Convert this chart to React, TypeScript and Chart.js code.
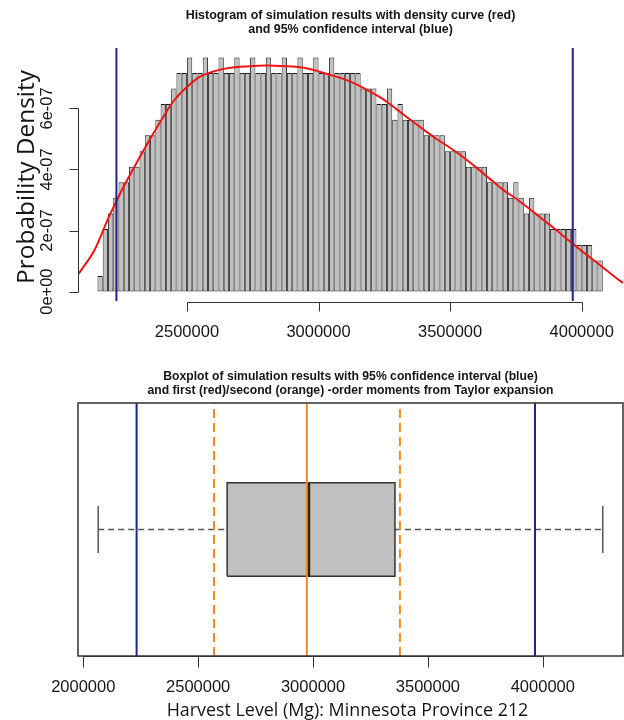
import React, { useEffect, useRef } from "react";
import { Chart, registerables } from "chart.js";

Chart.register(...registerables);

// ---------------- DATA ----------------
// Histogram bin centres (bin width 20 000 Mg)
const histBinCenters = [
  2170000, 2190000, 2210000, 2230000, 2250000, 2270000, 2290000, 2310000, 2330000, 2350000, 2370000, 2390000,
  2410000, 2430000, 2450000, 2470000, 2490000, 2510000, 2530000, 2550000, 2570000, 2590000, 2610000, 2630000,
  2650000, 2670000, 2690000, 2710000, 2730000, 2750000, 2770000, 2790000, 2810000, 2830000, 2850000, 2870000,
  2890000, 2910000, 2930000, 2950000, 2970000, 2990000, 3010000, 3030000, 3050000, 3070000, 3090000, 3110000,
  3130000, 3150000, 3170000, 3190000, 3210000, 3230000, 3250000, 3270000, 3290000, 3310000, 3330000, 3350000,
  3370000, 3390000, 3410000, 3430000, 3450000, 3470000, 3490000, 3510000, 3530000, 3550000, 3570000, 3590000,
  3610000, 3630000, 3650000, 3670000, 3690000, 3710000, 3730000, 3750000, 3770000, 3790000, 3810000, 3830000,
  3850000, 3870000, 3890000, 3910000, 3930000, 3950000, 3970000, 3990000, 4010000, 4030000, 4050000, 4070000,
];

// Histogram densities, in units of 1e-07
const histDensityE7 = [
  0.51, 2.05, 2.56, 3.07, 3.58, 3.58, 4.09, 4.09, 4.60, 5.12, 5.12, 5.63,
  6.14, 6.14, 6.65, 7.16, 7.16, 7.67, 7.16, 7.16, 7.67, 7.16, 7.16, 7.67,
  7.16, 7.16, 7.67, 7.16, 7.16, 7.67, 7.16, 7.16, 7.67, 7.16, 7.16, 7.67,
  7.16, 7.16, 7.67, 7.16, 7.16, 7.67, 7.16, 7.16, 7.67, 7.16, 7.16, 7.16,
  7.16, 7.16, 6.65, 6.65, 6.65, 6.14, 6.14, 6.65, 5.63, 6.14, 5.63, 5.63,
  5.63, 5.63, 5.12, 5.12, 5.12, 5.12, 4.60, 4.60, 4.60, 4.60, 4.09, 4.09,
  4.09, 4.09, 3.58, 3.58, 3.58, 3.58, 3.07, 3.58, 3.07, 2.56, 3.07, 2.56,
  2.56, 2.56, 2.05, 2.05, 2.05, 2.05, 2.05, 1.53, 1.53, 1.53, 1.02, 1.02,
];

// Kernel density curve (red), x in Mg, y in units of 1e-07
const curveX = [
  2086000, 2100000, 2150000, 2200000, 2250000, 2300000, 2350000, 2400000, 2450000, 2500000,
  2550000, 2600000, 2650000, 2700000, 2750000, 2800000, 2850000, 2900000, 2950000, 3000000,
  3050000, 3100000, 3150000, 3200000, 3250000, 3300000, 3350000, 3400000, 3450000, 3500000,
  3550000, 3600000, 3650000, 3700000, 3750000, 3800000, 3850000, 3900000, 3950000, 4000000,
  4050000, 4100000, 4150000, 4160000,
];
const curveDensityE7 = [
  0.56, 0.73, 1.38, 2.38, 3.28, 4.08, 4.85, 5.58, 6.25, 6.7,
  7.04, 7.21, 7.31, 7.36, 7.39, 7.4, 7.39, 7.37, 7.32, 7.21,
  7.08, 6.95, 6.76, 6.53, 6.27, 5.95, 5.62, 5.3, 4.99, 4.71,
  4.4, 4.06, 3.7, 3.34, 3.05, 2.72, 2.38, 2.04, 1.68, 1.33,
  1.0, 0.66, 0.33, 0.28,
];

const histXTicks = [2500000, 3000000, 3500000, 4000000];
const histYTicks = [0, 2, 4, 6];
const histYTickLabels = ["0e+00", "2e-07", "4e-07", "6e-07"];

// 95% confidence interval (blue)
const ciBounds = [2232000, 3966000];

// Boxplot: whisker low, Q1, median, Q3, whisker high
const boxStats = [2065000, 2626000, 2981000, 3356500, 4261000];
// Taylor expansion moments (orange): mean, and lower/upper bounds
const taylorMean = [2973000];
const taylorBounds = [2569000, 3378000];
const boxXTicks = [2000000, 2500000, 3000000, 3500000, 4000000];

const histTitle = [
  "Histogram of simulation results with density curve (red)",
  "and 95% confidence interval (blue)",
];
const boxTitle = [
  "Boxplot of simulation results with 95% confidence interval (blue)",
  "and first (red)/second (orange) -order moments from Taylor expansion",
];
const yAxisTitle = "Probability Density";
const xAxisTitle = "Harvest Level (Mg): Minnesota Province 212";

// ---------------- STYLE ----------------
const FONT = "'Liberation Sans', Arial, sans-serif";
const LABEL_FONT = "'Open Sans', 'Noto Sans', sans-serif";
const INK = "#333333";
const TEXT = "#151515";
const BAR_FILL = "#c0c0c0";
const BAR_EDGE = "#1e1e1e";
const RED = "#f01414";
const BLUE = "#22228c";
const ORANGE = "#f58a1f";

// axis limits (R-style 4% extension)
const H_X_MIN = 2086000;
const H_X_MAX = 4157000;
const H_Y_MIN = -0.307;
const H_Y_MAX = 7.977;
const B_X_MIN = 1977000;
const B_X_MAX = 4349000;
const B_Y_MIN = 0.46;
const B_Y_MAX = 1.54;

function fittedSize(ctx: CanvasRenderingContext2D, text: string, weight: string, family: string, width: number) {
  ctx.font = `${weight} 100px ${family}`;
  return (100 * width) / ctx.measureText(text).width;
}

function seg(x1: number, y1: number, x2: number, y2: number) {
  return [
    { x: x1, y: y1 },
    { x: x2, y: y2 },
  ];
}

const lineBase = { type: "line" as const, pointRadius: 0, pointHoverRadius: 0, tension: 0, fill: false };

const histPlugin = {
  id: "histAxes",
  afterDraw(chart: any) {
    const { ctx, chartArea: a } = chart;
    const xs = chart.scales.x;
    const ys = chart.scales.y;
    const cx = (a.left + a.right) / 2;
    ctx.save();
    ctx.fillStyle = TEXT;
    ctx.textAlign = "center";
    ctx.textBaseline = "middle";
    const ts = fittedSize(ctx, histTitle[0], "bold", FONT, 330);
    ctx.font = `bold ${ts}px ${FONT}`;
    ctx.fillText(histTitle[0], cx, 16);
    ctx.fillText(histTitle[1], cx, 30);

    // x axis
    ctx.strokeStyle = INK;
    ctx.lineWidth = 1;
    const ay = Math.round(a.bottom) + 1.5;
    ctx.beginPath();
    ctx.moveTo(Math.round(xs.getPixelForValue(histXTicks[0])) + 0.5, ay);
    ctx.lineTo(Math.round(xs.getPixelForValue(histXTicks[histXTicks.length - 1])) + 0.5, ay);
    histXTicks.forEach((v) => {
      const px = Math.round(xs.getPixelForValue(v)) + 0.5;
      ctx.moveTo(px, ay);
      ctx.lineTo(px, ay + 9);
    });
    ctx.stroke();
    ctx.font = `16.5px ${FONT}`;
    histXTicks.forEach((v) => ctx.fillText(String(v), xs.getPixelForValue(v), ay + 30));

    // y axis
    const ax = Math.round(a.left) + 0.5;
    ctx.beginPath();
    ctx.moveTo(ax, Math.round(ys.getPixelForValue(histYTicks[0])) + 0.5);
    ctx.lineTo(ax, Math.round(ys.getPixelForValue(histYTicks[histYTicks.length - 1])) + 0.5);
    histYTicks.forEach((v) => {
      const py = Math.round(ys.getPixelForValue(v)) + 0.5;
      ctx.moveTo(ax, py);
      ctx.lineTo(ax - 9, py);
    });
    ctx.stroke();
    histYTicks.forEach((v, i) => {
      ctx.save();
      ctx.translate(a.left - 31, ys.getPixelForValue(v));
      ctx.rotate(-Math.PI / 2);
      ctx.fillText(histYTickLabels[i], 0, 0);
      ctx.restore();
    });

    // y axis title
    const ls = fittedSize(ctx, yAxisTitle, "normal", LABEL_FONT, 214);
    ctx.font = `${ls}px ${LABEL_FONT}`;
    ctx.save();
    ctx.translate(a.left - 51, 177);
    ctx.rotate(-Math.PI / 2);
    ctx.fillText(yAxisTitle, 0, 0);
    ctx.restore();
    ctx.restore();
  },
};

const boxPlugin = {
  id: "boxAxes",
  afterDraw(chart: any) {
    const { ctx, chartArea: a } = chart;
    const xs = chart.scales.x;
    const cx = (a.left + a.right) / 2;
    ctx.save();
    ctx.fillStyle = TEXT;
    ctx.textAlign = "center";
    ctx.textBaseline = "middle";
    const ts = fittedSize(ctx, boxTitle[0], "bold", FONT, 375);
    ctx.font = `bold ${ts}px ${FONT}`;
    ctx.fillText(boxTitle[0], cx, 17);
    ctx.fillText(boxTitle[1], cx, 31);

    // frame
    ctx.strokeStyle = INK;
    ctx.lineWidth = 1.5;
    ctx.strokeRect(a.left, a.top, a.right - a.left, a.bottom - a.top);

    // x axis
    ctx.lineWidth = 1;
    const ay = Math.round(a.bottom) + 0.5;
    ctx.beginPath();
    ctx.moveTo(Math.round(xs.getPixelForValue(boxXTicks[0])) + 0.5, ay);
    ctx.lineTo(Math.round(xs.getPixelForValue(boxXTicks[boxXTicks.length - 1])) + 0.5, ay);
    boxXTicks.forEach((v) => {
      const px = Math.round(xs.getPixelForValue(v)) + 0.5;
      ctx.moveTo(px, ay);
      ctx.lineTo(px, ay + 11);
    });
    ctx.stroke();
    ctx.font = `16.5px ${FONT}`;
    boxXTicks.forEach((v) => ctx.fillText(String(v), xs.getPixelForValue(v), ay + 31));

    const ls = fittedSize(ctx, xAxisTitle, "normal", LABEL_FONT, 362);
    ctx.font = `${ls}px ${LABEL_FONT}`;
    ctx.fillText(xAxisTitle, cx - 3, ay + 54);
    ctx.restore();
  },
};

function HistogramChart() {
  const ref = useRef<HTMLCanvasElement | null>(null);
  useEffect(() => {
    if (!ref.current) return;
    const chart = new Chart(ref.current, {
      type: "bar",
      data: {
        datasets: [
          {
            ...lineBase,
            data: seg(ciBounds[0], H_Y_MIN, ciBounds[0], H_Y_MAX),
            borderColor: BLUE,
            borderWidth: 2,
            order: 0,
          },
          {
            ...lineBase,
            data: seg(ciBounds[1], H_Y_MIN, ciBounds[1], H_Y_MAX),
            borderColor: BLUE,
            borderWidth: 2,
            order: 0,
          },
          {
            ...lineBase,
            data: curveX.map((x, i) => ({ x, y: curveDensityE7[i] })),
            borderColor: RED,
            borderWidth: 2,
            cubicInterpolationMode: "monotone",
            order: 1,
          },
          {
            type: "bar",
            data: histBinCenters.map((x, i) => ({ x, y: histDensityE7[i] })),
            backgroundColor: BAR_FILL,
            borderColor: BAR_EDGE,
            borderWidth: { top: 1, bottom: 1, left: 0.9, right: 0.9 },
            borderSkipped: false,
            barPercentage: 1,
            categoryPercentage: 1,
            inflateAmount: 0,
            order: 2,
          },
        ] as any,
      },
      options: {
        responsive: false,
        maintainAspectRatio: false,
        animation: false,
        events: [],
        layout: { padding: { left: 78, right: 1, top: 48, bottom: 59 } },
        plugins: { legend: { display: false }, tooltip: { enabled: false }, title: { display: false } },
        scales: {
          x: { type: "linear", min: H_X_MIN, max: H_X_MAX, display: false, offset: false, grid: { display: false } },
          y: { type: "linear", min: H_Y_MIN, max: H_Y_MAX, display: false, grid: { display: false } },
        },
      } as any,
      plugins: [histPlugin],
    });
    return () => chart.destroy();
  }, []);
  return (
    <canvas ref={ref} width={624} height={360} style={{ position: "absolute", left: 0, top: 0, width: 624, height: 360 }} />
  );
}

function BoxplotChart() {
  const ref = useRef<HTMLCanvasElement | null>(null);
  useEffect(() => {
    if (!ref.current) return;
    const [wLo, q1, med, q3, wHi] = boxStats;
    const chart = new Chart(ref.current, {
      type: "line",
      data: {
        datasets: [
          {
            ...lineBase,
            data: seg(taylorBounds[0], B_Y_MIN, taylorBounds[0], B_Y_MAX),
            borderColor: ORANGE,
            borderWidth: 2,
            borderDash: [9, 5],
            order: 0,
          },
          {
            ...lineBase,
            data: seg(taylorBounds[1], B_Y_MIN, taylorBounds[1], B_Y_MAX),
            borderColor: ORANGE,
            borderWidth: 2,
            borderDash: [9, 5],
            order: 0,
          },
          {
            ...lineBase,
            data: seg(taylorMean[0], B_Y_MIN, taylorMean[0], B_Y_MAX),
            borderColor: ORANGE,
            borderWidth: 2,
            order: 0,
          },
          {
            ...lineBase,
            data: seg(ciBounds[0], B_Y_MIN, ciBounds[0], B_Y_MAX),
            borderColor: BLUE,
            borderWidth: 2,
            order: 1,
          },
          {
            ...lineBase,
            data: seg(ciBounds[1], B_Y_MIN, ciBounds[1], B_Y_MAX),
            borderColor: BLUE,
            borderWidth: 2,
            order: 1,
          },
          {
            ...lineBase,
            data: seg(med, 0.8, med, 1.2),
            borderColor: "#222222",
            borderWidth: 3,
            order: 2,
          },
          {
            ...lineBase,
            data: [
              { x: q1, y: 0.8 },
              { x: q3, y: 0.8 },
              { x: q3, y: 1.2 },
              { x: q1, y: 1.2 },
              { x: q1, y: 0.8 },
            ],
            fill: "shape",
            backgroundColor: BAR_FILL,
            borderColor: INK,
            borderWidth: 1.5,
            order: 3,
          },
          {
            ...lineBase,
            data: seg(wLo, 1, q1, 1),
            borderColor: "#555555",
            borderWidth: 1.3,
            borderDash: [6, 4],
            order: 4,
          },
          {
            ...lineBase,
            data: seg(q3, 1, wHi, 1),
            borderColor: "#555555",
            borderWidth: 1.3,
            borderDash: [6, 4],
            order: 4,
          },
          {
            ...lineBase,
            data: seg(wLo, 0.9, wLo, 1.1),
            borderColor: "#555555",
            borderWidth: 1.5,
            order: 4,
          },
          {
            ...lineBase,
            data: seg(wHi, 0.9, wHi, 1.1),
            borderColor: "#555555",
            borderWidth: 1.5,
            order: 4,
          },
        ] as any,
      },
      options: {
        responsive: false,
        maintainAspectRatio: false,
        animation: false,
        events: [],
        layout: { padding: { left: 78, right: 1, top: 43, bottom: 64 } },
        plugins: { legend: { display: false }, tooltip: { enabled: false }, title: { display: false } },
        scales: {
          x: { type: "linear", min: B_X_MIN, max: B_X_MAX, display: false, grid: { display: false } },
          y: { type: "linear", min: B_Y_MIN, max: B_Y_MAX, display: false, grid: { display: false } },
        },
      } as any,
      plugins: [boxPlugin],
    });
    return () => chart.destroy();
  }, []);
  return (
    <canvas
      ref={ref}
      width={624}
      height={360}
      style={{ position: "absolute", left: 0, top: 360, width: 624, height: 360 }}
    />
  );
}

export default function App() {
  return (
    <div style={{ position: "absolute", left: 0, top: 0, width: 624, height: 720, background: "#ffffff", overflow: "hidden" }}>
      <HistogramChart />
      <BoxplotChart />
    </div>
  );
}
